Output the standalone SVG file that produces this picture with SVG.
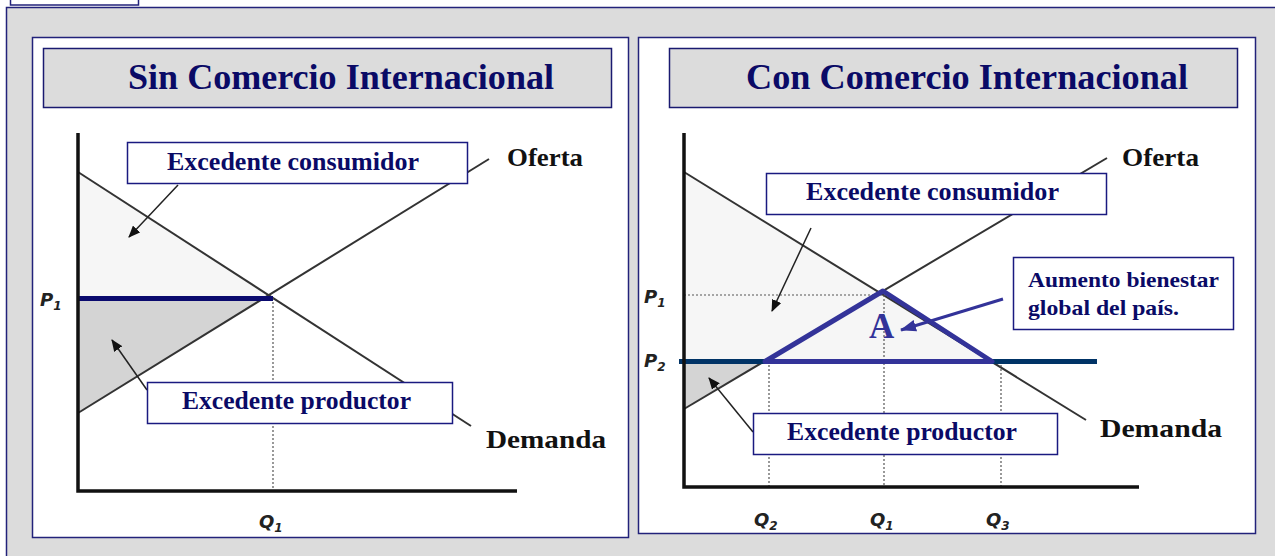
<svg xmlns="http://www.w3.org/2000/svg" width="1275" height="556" viewBox="0 0 1275 556">
<style>
.panel{fill:#ffffff;stroke:#22227a;stroke-width:1.5}
.hdr{fill:#dcdcdc;stroke:#1a1a70;stroke-width:1.5}
.title{font-family:"Liberation Serif",serif;font-weight:bold;font-size:35px;fill:#0a0a66}
.box{fill:#ffffff;stroke:#1a1a80;stroke-width:1.5}
.lbl{font-family:"Liberation Serif",serif;font-weight:bold;font-size:25px;fill:#0a0a66}
.lbs{font-family:"Liberation Serif",serif;font-weight:bold;font-size:22px;fill:#0a0a66}
.curve{font-family:"Liberation Serif",serif;font-weight:bold;font-size:26px;fill:#111}
.ax{stroke:#111;stroke-width:3.5;fill:none}
.ln{stroke:#333;stroke-width:2;fill:none}
.dot{stroke:#555;stroke-width:1.2;stroke-dasharray:2 2;fill:none}
.axl{font-family:"DejaVu Sans",sans-serif;font-weight:bold;font-style:italic;font-size:18px;fill:#222}
.sub{font-size:12px}
.arr{stroke:#222;stroke-width:1.5;fill:none;marker-end:url(#ah)}
.tri{stroke:#333399;stroke-width:5;fill:none;stroke-linejoin:round}
</style>
<defs>
<marker id="ah" markerUnits="userSpaceOnUse" markerWidth="12" markerHeight="10" refX="11" refY="5" orient="auto">
<path d="M0,0 L12,5 L0,10 Z" fill="#111"/>
</marker>
<marker id="ahb" markerUnits="userSpaceOnUse" markerWidth="16" markerHeight="12" refX="15" refY="6" orient="auto">
<path d="M0,0 L16,6 L0,12 Z" fill="#333399"/>
</marker>
</defs>
<rect x="10.5" y="-2" width="128" height="7" fill="#fff" stroke="#22227a" stroke-width="1.5"/>
<rect x="6.5" y="7.5" width="1290" height="570" fill="#dcdcdc" stroke="#22227a" stroke-width="1.5"/>

<g id="left-panel">
<rect class="panel" x="32.5" y="37.5" width="596" height="500"/>
<rect class="hdr" x="43.5" y="48.5" width="568" height="59"/>
<text class="title" x="128" y="89" textLength="426" lengthAdjust="spacingAndGlyphs">Sin Comercio Internacional</text>
</g>

<g id="right-panel">
<rect class="panel" x="638.5" y="37.5" width="617" height="496"/>
<rect class="hdr" x="669.5" y="48.5" width="568" height="59"/>
<text class="title" x="746" y="89" textLength="442" lengthAdjust="spacingAndGlyphs">Con Comercio Internacional</text>
</g>

<g id="left-chart">
<polygon points="78,172 272,297 78,297" fill="#f6f6f6"/>
<polygon points="78,298 265,298 78,413" fill="#d4d4d4"/>
<line class="ln" x1="78" y1="172" x2="471" y2="426"/>
<line class="ln" x1="78" y1="413" x2="489" y2="159"/>
<line class="dot" x1="273" y1="298" x2="273" y2="491"/>
<line x1="78" y1="298.5" x2="273" y2="298.5" stroke="#0a0a6e" stroke-width="5"/>
<path class="ax" d="M78,133 L78,491 L517,491"/>
<text class="axl" x="40" y="306">P<tspan class="sub" dy="4">1</tspan></text>
<text class="axl" x="259" y="528">Q<tspan class="sub" dy="4">1</tspan></text>
<text class="curve" x="507" y="166" textLength="76" lengthAdjust="spacingAndGlyphs">Oferta</text>
<text class="curve" x="486" y="448" textLength="120" lengthAdjust="spacingAndGlyphs">Demanda</text>
</g>

<g id="right-chart">
<polygon points="684,172 990,361 684,361" fill="#f6f6f6"/>
<polygon points="684,361 765,361 684,409" fill="#d4d4d4"/>
<line class="ln" x1="684" y1="172" x2="1086" y2="420"/>
<line class="ln" x1="684" y1="409" x2="1107" y2="158"/>
<line class="dot" x1="684" y1="295" x2="884" y2="295" stroke="#888"/>
<line class="dot" x1="884" y1="291" x2="884" y2="487"/>
<line class="dot" x1="769" y1="361" x2="769" y2="487"/>
<line class="dot" x1="1001" y1="361" x2="1001" y2="487" stroke-width="2"/>
<line x1="679" y1="361.5" x2="1097" y2="361.5" stroke="#003366" stroke-width="5"/>
<path class="tri" d="M765,361.5 L883,291 L992,361.5 Z"/>
<path class="ax" d="M684,133 L684,487 L1139,487"/>
<text class="axl" x="644" y="303">P<tspan class="sub" dy="4">1</tspan></text>
<text class="axl" x="644" y="367">P<tspan class="sub" dy="4">2</tspan></text>
<text class="axl" x="754" y="526">Q<tspan class="sub" dy="4">2</tspan></text>
<text class="axl" x="870" y="526">Q<tspan class="sub" dy="4">1</tspan></text>
<text class="axl" x="986" y="526">Q<tspan class="sub" dy="4">3</tspan></text>
<text x="869" y="338" font-family="Liberation Serif, serif" font-weight="bold" font-size="35" fill="#333399">A</text>
<text class="curve" x="1122" y="166" textLength="77" lengthAdjust="spacingAndGlyphs">Oferta</text>
<text class="curve" x="1100" y="437" textLength="122" lengthAdjust="spacingAndGlyphs">Demanda</text>
</g>

<g id="connectors">
<line class="arr" x1="178" y1="185" x2="129" y2="237"/>
<line class="arr" x1="147" y1="390" x2="112" y2="340"/>
<line class="arr" x1="811" y1="228" x2="772" y2="311"/>
<line class="arr" x1="753" y1="432" x2="709" y2="378"/>
<line x1="1003" y1="299" x2="901" y2="330" stroke="#333399" stroke-width="3" marker-end="url(#ahb)"/>
</g>

<g id="box-consumidor-left">
<rect class="box" x="127.5" y="142.5" width="340" height="41"/>
<text class="lbl" x="167" y="170" textLength="252" lengthAdjust="spacingAndGlyphs">Excedente consumidor</text>
</g>
<g id="box-productor-left">
<rect class="box" x="147.5" y="382.5" width="305" height="41"/>
<text class="lbl" x="182" y="409" textLength="229" lengthAdjust="spacingAndGlyphs">Excedente productor</text>
</g>
<g id="box-consumidor-right">
<rect class="box" x="766.5" y="173.5" width="340" height="41"/>
<text class="lbl" x="806" y="200" textLength="253" lengthAdjust="spacingAndGlyphs">Excedente consumidor</text>
</g>
<g id="box-productor-right">
<rect class="box" x="753.5" y="413.5" width="304" height="41"/>
<text class="lbl" x="787" y="440" textLength="230" lengthAdjust="spacingAndGlyphs">Excedente productor</text>
</g>
<g id="box-aumento">
<rect class="box" x="1013.5" y="257.5" width="220" height="72"/>
<text class="lbs" x="1028" y="287" textLength="191" lengthAdjust="spacingAndGlyphs">Aumento bienestar</text>
<text class="lbs" x="1028" y="315" textLength="151" lengthAdjust="spacingAndGlyphs">global del país.</text>
</g>
</svg>
